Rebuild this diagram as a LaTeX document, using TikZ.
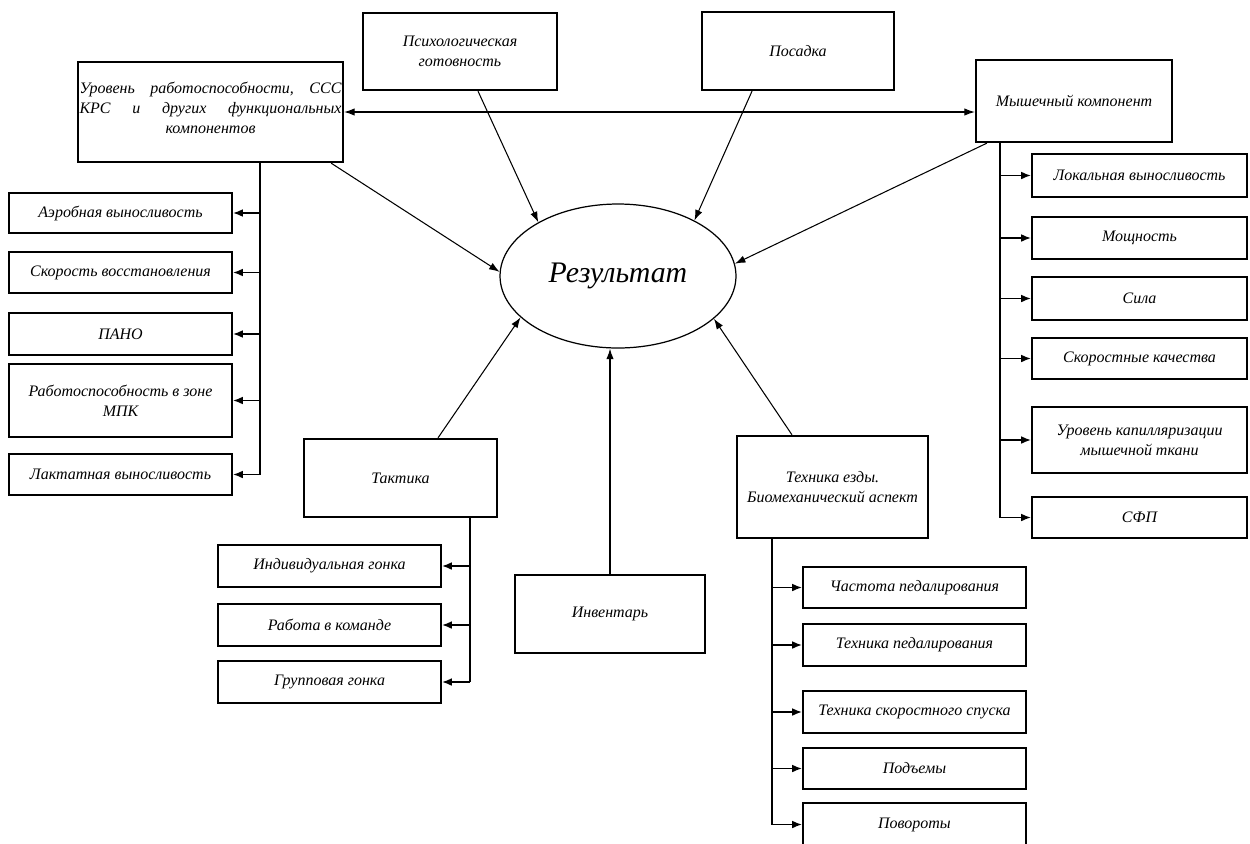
\documentclass[tikz,border=0pt]{standalone}
\usepackage{fontspec}
\setmainfont{Liberation Serif}
\usepackage{tikz}
\usetikzlibrary{positioning,shapes.geometric,arrows.meta}

\tikzset{
  blok/.style={draw, line width=1.3pt, inner sep=1pt, align=center,
    font=\itshape\fontsize{9.1}{11.4}\selectfont},
  arr/.style={-{Latex[length=6pt,width=4.2pt]}, line width=.6pt},
  vetka/.style={-{Latex[length=5.5pt,width=4.4pt]}, line width=.8pt},
  stvol/.style={line width=.8pt}
}

\begin{document}
\begin{tikzpicture}[x=0.02cm,y=-0.02cm]
    \useasboundingbox (0,0) rectangle (1250,843);

    % centre
    \node[draw, ellipse, line width=.7pt, minimum width=4.72cm, minimum height=2.88cm,
      font=\itshape\fontsize{17}{20}\selectfont] (res) at (618,276) {Результат};

    % top row
    \node[blok, minimum width=5.3cm, minimum height=2cm] (upr) at (210.5,112) {};
    \node[font=\itshape\fontsize{9.1}{11.4}\selectfont, text width=5.24cm, align=center, inner sep=0pt]
      at ([yshift=0.08cm]upr.center)
      {\makebox[5.24cm][l]{Уровень\hfill работоспособности,\hfill ССС}\\
       \makebox[5.24cm][l]{КРС\hfill и\hfill других\hfill функциональных}\\
       компонентов};
    \node[blok, minimum width=3.88cm, minimum height=1.54cm] (psy) at (460,51.5) {Психологическая\\готовность};
    \node[blok, minimum width=3.84cm, minimum height=1.56cm] (pos) at (798,51) {Посадка};
    \node[blok, minimum width=3.92cm, minimum height=1.64cm] (mysh) at (1074,101) {Мышечный компонент};

    % left column
    \node[blok, minimum width=4.46cm, minimum height=0.8cm] (aero) at (120.5,213) {Аэробная выносливость};
    \node[blok, minimum width=4.46cm, minimum height=0.82cm] (skor) at (120.5,272.5) {Скорость восстановления};
    \node[blok, minimum width=4.46cm, minimum height=0.84cm] (pano) at (120.5,334) {ПАНО};
    \node[blok, minimum width=4.46cm, minimum height=1.46cm] (mpk) at (120.5,400.5) {Работоспособность в зоне\\МПК};
    \node[blok, minimum width=4.46cm, minimum height=0.82cm] (lakt) at (120.5,474.5) {Лактатная выносливость};

    % right column
    \node[blok, minimum width=4.3cm, minimum height=0.86cm] (lokal) at (1139.5,175.5) {Локальная выносливость};
    \node[blok, minimum width=4.3cm, minimum height=0.84cm] (mosch) at (1139.5,238) {Мощность};
    \node[blok, minimum width=4.3cm, minimum height=0.86cm] (sila) at (1139.5,298.5) {Сила};
    \node[blok, minimum width=4.3cm, minimum height=0.82cm] (skorq) at (1139.5,358.5) {Скоростные качества};
    \node[blok, minimum width=4.3cm, minimum height=1.32cm] (kapil) at (1139.5,440) {Уровень капилляризации\\мышечной ткани};
    \node[blok, minimum width=4.3cm, minimum height=0.82cm] (sfp) at (1139.5,517.5) {СФП};

    % bottom
    \node[blok, minimum width=3.86cm, minimum height=1.56cm] (takt) at (400.5,478) {Тактика};
    \node[blok, minimum width=3.8cm, minimum height=1.56cm] (inv) at (610,614) {Инвентарь};
    \node[blok, minimum width=3.82cm, minimum height=2.04cm] (tech) at (832.5,487) {Техника езды.\\Биомеханический аспект};

    \node[blok, minimum width=4.46cm, minimum height=0.84cm] (ind) at (329.5,566) {Индивидуальная гонка};
    \node[blok, minimum width=4.46cm, minimum height=0.84cm] (kom) at (329.5,625) {Работа в команде};
    \node[blok, minimum width=4.46cm, minimum height=0.84cm] (grup) at (329.5,682) {Групповая гонка};

    \node[blok, minimum width=4.46cm, minimum height=0.82cm] (chast) at (914.5,587.5) {Частота педалирования};
    \node[blok, minimum width=4.46cm, minimum height=0.84cm] (tped) at (914.5,645) {Техника педалирования};
    \node[blok, minimum width=4.46cm, minimum height=0.84cm] (spusk) at (914.5,712) {Техника скоростного спуска};
    \node[blok, minimum width=4.46cm, minimum height=0.82cm] (podj) at (914.5,768.5) {Подъемы};
    \node[blok, minimum width=4.46cm, minimum height=0.86cm] (povor) at (914.5,824.5) {Повороты};

    % arrows into the result
    \draw[arr] ([xshift=-0.26cm]upr.south east) -- (res.178);
    \draw[arr] ([xshift=0.36cm]psy.south) -- (res.146);
    \draw[arr] ([xshift=-0.92cm]pos.south) -- (res.36);
    \draw[arr] ([xshift=0.24cm]mysh.south west) -- (res.6);
    \draw[arr] ([xshift=0.75cm]takt.north) -- (res.203);
    \draw[arr] (inv.north) -- (inv.north |- res.south);
    \draw[arr] ([xshift=-0.81cm]tech.north) -- (res.336);
    \draw[{Latex[length=6pt,width=4.2pt]}-{Latex[length=6pt,width=4.2pt]}, line width=.6pt]
      (upr.east) -- (upr.east -| mysh.west);

    % branches
    \coordinate (ltop) at ([xshift=0.99cm]upr.south);
    \draw[stvol] (ltop) -- (ltop |- lakt.east);
    \foreach \n in {aero,skor,pano,mpk,lakt}
      \draw[vetka] (ltop |- \n.east) -- (\n.east);

    \coordinate (rtop) at ([xshift=-1.48cm]mysh.south);
    \draw[stvol] (rtop) -- (rtop |- sfp.west);
    \foreach \n in {lokal,mosch,sila,skorq,kapil,sfp}
      \draw[vetka] (rtop |- \n.west) -- (\n.west);

    \coordinate (ttop) at ([xshift=1.39cm]takt.south);
    \draw[stvol] (ttop) -- (ttop |- grup.east);
    \foreach \n in {ind,kom,grup}
      \draw[vetka] (ttop |- \n.east) -- (\n.east);

    \coordinate (btop) at ([xshift=-1.21cm]tech.south);
    \draw[stvol] (btop) -- (btop |- povor.west);
    \foreach \n in {chast,tped,spusk,podj,povor}
      \draw[vetka] (btop |- \n.west) -- (\n.west);
\end{tikzpicture}
\end{document}
